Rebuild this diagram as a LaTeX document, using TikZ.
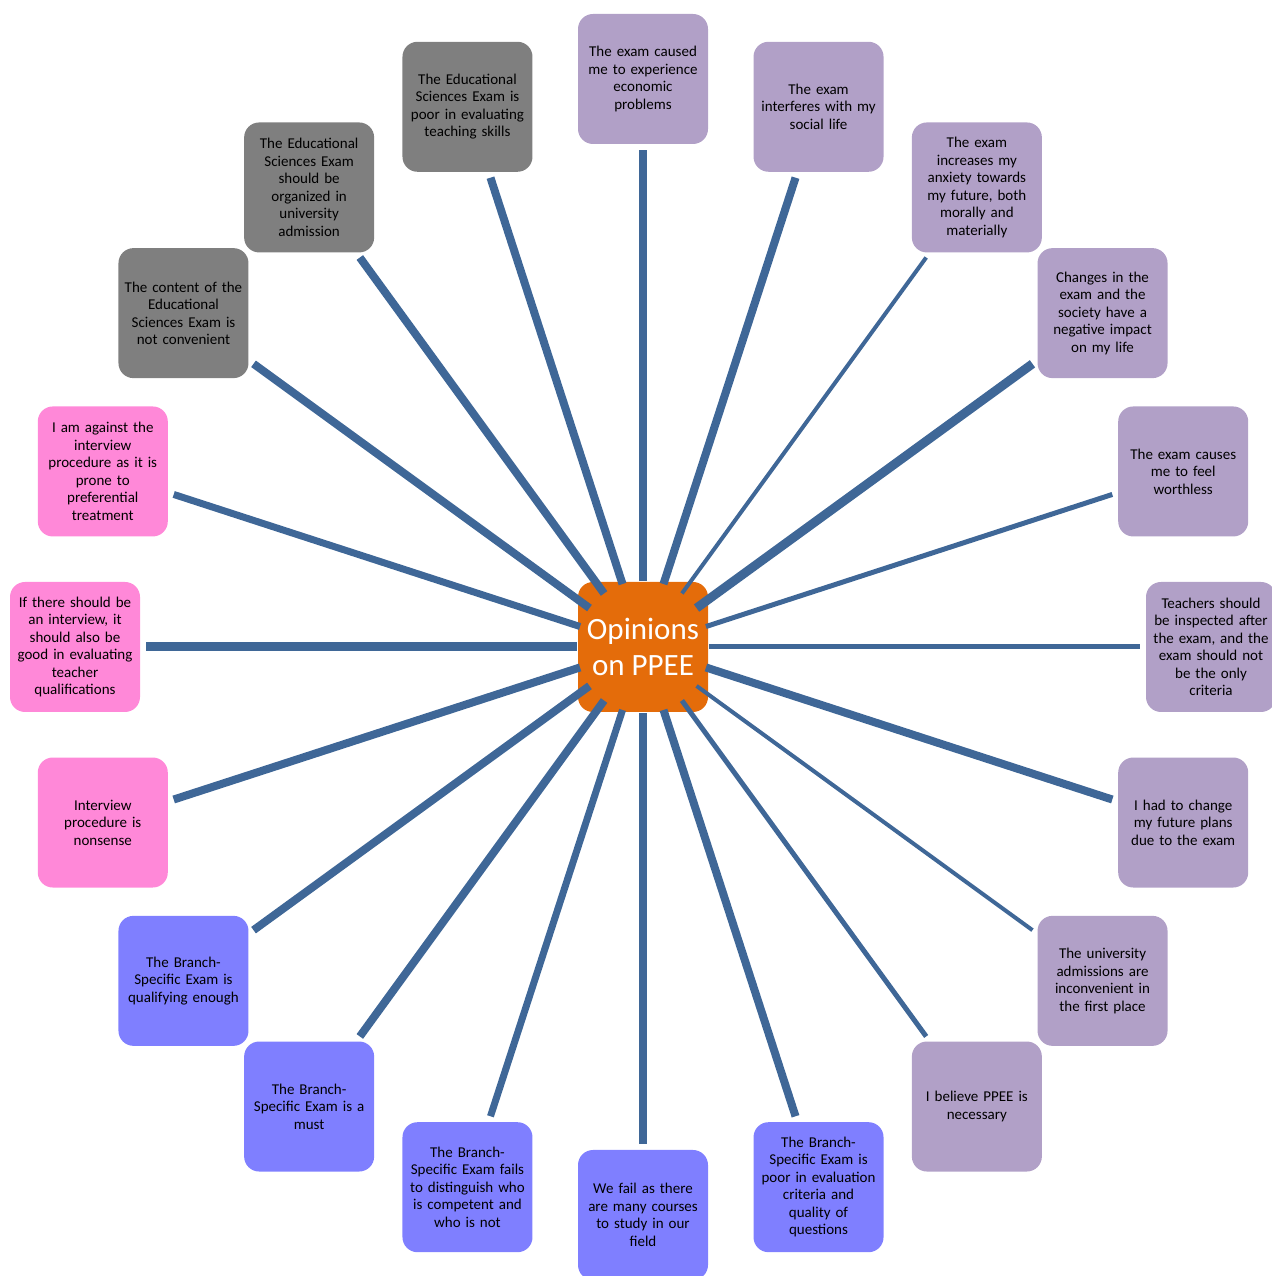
\documentclass[tikz,border=0pt]{standalone}
\usepackage{fontspec}
\setmainfont{Carlito}
\definecolor{linec}{HTML}{3F6797}
\definecolor{purp}{HTML}{B1A0C7}
\definecolor{grayb}{HTML}{7F7F7F}
\definecolor{pinkb}{HTML}{FF88D8}
\definecolor{blueb}{HTML}{7F7FFF}
\definecolor{orangeb}{HTML}{E46C0A}
\tikzset{
  leaf/.style={rectangle, rounded corners=15pt, minimum width=130pt, minimum height=130pt,
    text width=126pt, inner sep=2pt, align=center, text=black,
    font=\fontsize{15}{17.5}\selectfont},
  purpbox/.style={leaf, fill=purp},
  graybox/.style={leaf, fill=grayb},
  pinkbox/.style={leaf, fill=pinkb},
  bluebox/.style={leaf, fill=blueb},
  hubbox/.style={rectangle, rounded corners=15pt, minimum width=130pt, minimum height=130pt,
    fill=orangeb, text=white, align=center, font=\fontsize{31}{36}\selectfont},
  hubring/.style={circle, minimum size=132pt, inner sep=0pt},
  spoke/.style={draw=linec, line cap=butt, shorten >=6pt},
}
\begin{document}
\begin{tikzpicture}[x=1pt,y=1pt]
\useasboundingbox (0,0) rectangle (1271,1276);
\begin{scope}[shift={(643,629)}]
\node[hubbox] (center) at (0,0) {Opinions\\on PPEE};
\node[hubring] (hub) at (0,0) {};
\node[purpbox] (n1) at (90:568) {The exam caused\\me to experience\\economic\\problems};
\node[purpbox] (n2) at (72:568) {The exam\\interferes with my\\social life};
\node[purpbox] (n3) at (54:568) {The exam\\increases my\\anxiety towards\\my future, both\\morally and\\materially};
\node[purpbox] (n4) at (36:568) {Changes in the\\exam and the\\society have a\\negative impact\\on my life};
\node[purpbox] (n5) at (18:568) {The exam causes\\me to feel\\worthless};
\node[purpbox] (n6) at (0:568) {Teachers should\\be inspected after\\the exam, and the\\exam should not\\be the only\\criteria};
\node[purpbox] (n7) at (-18:568) {I had to change\\my future plans\\due to the exam};
\node[purpbox] (n8) at (-36:568) {The university\\admissions are\\inconvenient in\\the first place};
\node[purpbox] (n9) at (-54:568) {I believe PPEE is\\necessary};
\node[bluebox] (n10) at (-72:568) {The Branch-\\Specific Exam is\\poor in evaluation\\criteria and\\quality of\\questions};
\node[bluebox] (n11) at (-90:568) {We fail as there\\are many courses\\to study in our\\field};
\node[bluebox] (n12) at (-108:568) {The Branch-\\Specific Exam fails\\to distinguish who\\is competent and\\who is not};
\node[bluebox] (n13) at (-126:568) {The Branch-\\Specific Exam is a\\must};
\node[bluebox] (n14) at (-144:568) {The Branch-\\Specific Exam is\\qualifying enough};
\node[pinkbox] (n15) at (-162:568) {Interview\\procedure is\\nonsense};
\node[pinkbox] (n16) at (180:568) {If there should be\\an interview, it\\should also be\\good in evaluating\\teacher\\qualifications};
\node[pinkbox] (n17) at (162:568) {I am against the\\interview\\procedure as it is\\prone to\\preferential\\treatment};
\node[graybox] (n18) at (144:568) {The content of the\\Educational\\Sciences Exam is\\not convenient};
\node[graybox] (n19) at (126:568) {The Educational\\Sciences Exam\\should be\\organized in\\university\\admission};
\node[graybox] (n20) at (108:568) {The Educational\\Sciences Exam is\\poor in evaluating\\teaching skills};
\end{scope}
\draw[spoke, line width=8pt] (hub) -- (n1);
\draw[spoke, line width=8pt] (hub) -- (n2);
\draw[spoke, line width=4pt] (hub) -- (n3);
\draw[spoke, line width=9pt] (hub) -- (n4);
\draw[spoke, line width=5pt] (hub) -- (n5);
\draw[spoke, line width=5pt] (hub) -- (n6);
\draw[spoke, line width=8pt] (hub) -- (n7);
\draw[spoke, line width=4pt] (hub) -- (n8);
\draw[spoke, line width=5pt] (hub) -- (n9);
\draw[spoke, line width=8pt] (hub) -- (n10);
\draw[spoke, line width=8pt] (hub) -- (n11);
\draw[spoke, line width=7pt] (hub) -- (n12);
\draw[spoke, line width=8pt] (hub) -- (n13);
\draw[spoke, line width=8pt] (hub) -- (n14);
\draw[spoke, line width=8pt] (hub) -- (n15);
\draw[spoke, line width=9pt] (hub) -- (n16);
\draw[spoke, line width=7pt] (hub) -- (n17);
\draw[spoke, line width=8pt] (hub) -- (n18);
\draw[spoke, line width=8pt] (hub) -- (n19);
\draw[spoke, line width=8pt] (hub) -- (n20);
\end{tikzpicture}
\end{document}
